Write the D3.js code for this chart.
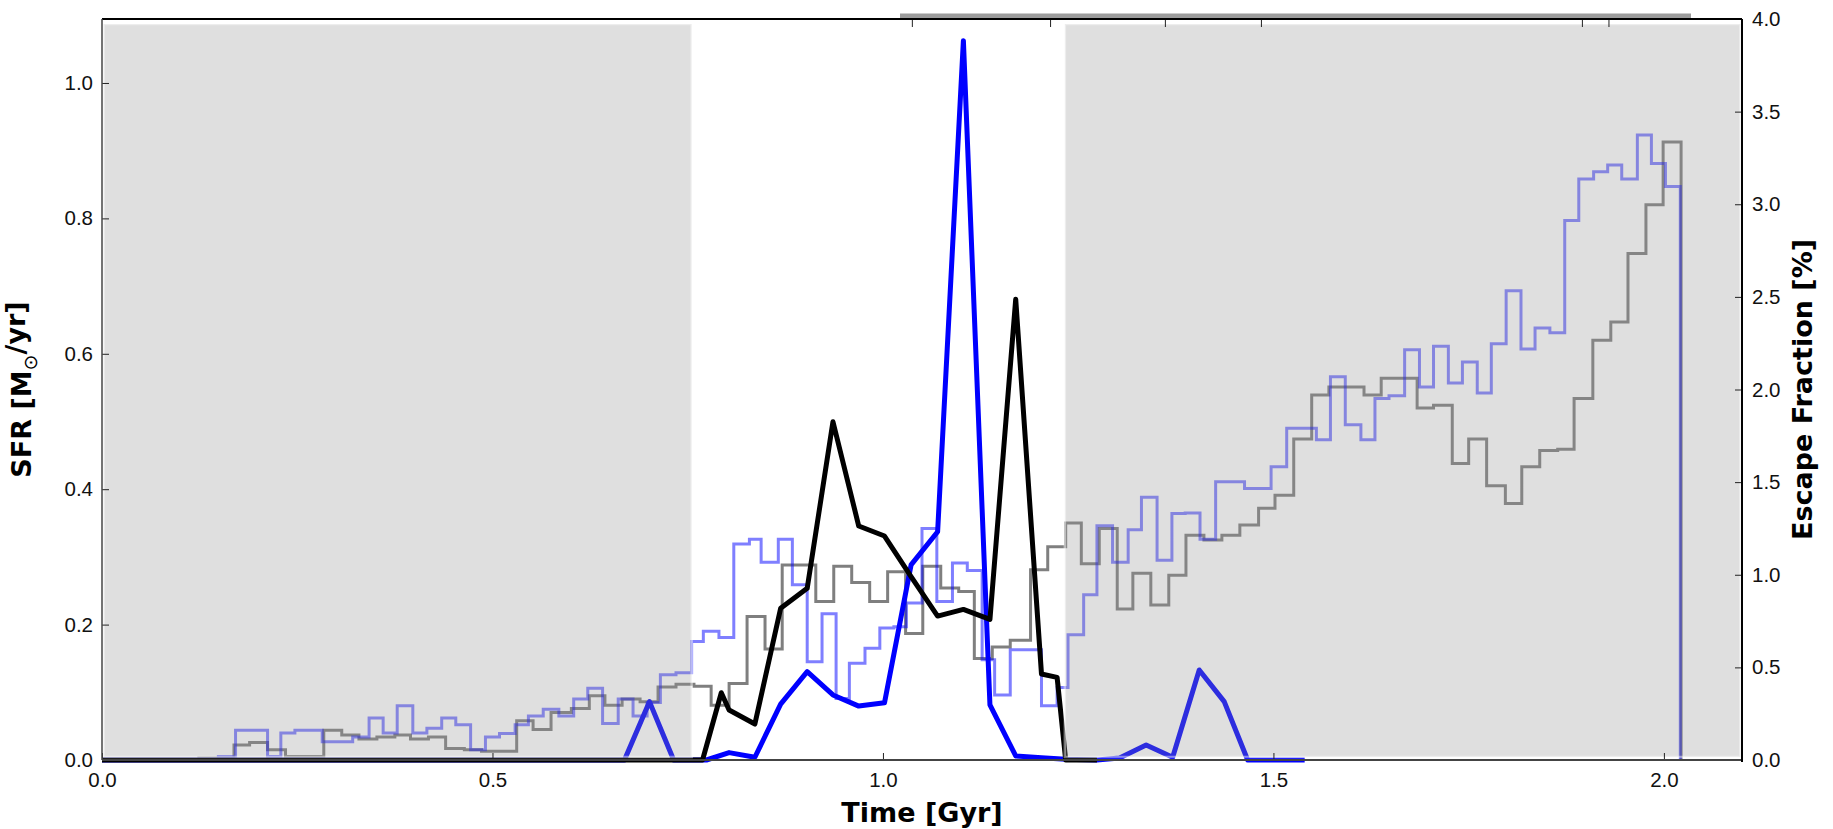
<!DOCTYPE html>
<html lang="en">
<head>
<meta charset="UTF-8">
<title>SFR and Escape Fraction</title>
<script src="https://cdnjs.cloudflare.com/ajax/libs/d3/7.8.5/d3.min.js"></script>
<style>
  body { margin: 0; background: #fff; }
  svg { display: block; font-family: "DejaVu Sans", sans-serif; }
  .tick text { font-size: 20.5px; fill: #111; }
  .tick line { stroke: #222; stroke-width: 1; }
  .axis-label { font-size: 27px; font-weight: bold; fill: #000; }
</style>
</head>
<body>
<svg id="chart" width="1833" height="829"></svg>
<script>
// --- Data (time in Gyr) ---

// shaded time spans
const shadedSpans = [[0.0, 0.757], [1.231, 2.1]];

// star formation rate histograms, [bin start, SFR in Msun/yr]
const sfrBlue = [
  [0.149, 0.005], [0.171, 0.044], [0.212, 0.005], [0.229, 0.040], [0.247, 0.044],
  [0.282, 0.027], [0.321, 0.034], [0.342, 0.062], [0.360, 0.040], [0.378, 0.080],
  [0.398, 0.040], [0.416, 0.047], [0.435, 0.062], [0.453, 0.052], [0.472, 0.015],
  [0.491, 0.034], [0.509, 0.039], [0.529, 0.052], [0.546, 0.065], [0.565, 0.075],
  [0.585, 0.065], [0.604, 0.090], [0.622, 0.106], [0.641, 0.054], [0.661, 0.090],
  [0.680, 0.065], [0.698, 0.085], [0.715, 0.126], [0.735, 0.129], [0.755, 0.175],
  [0.770, 0.190], [0.790, 0.181], [0.809, 0.319], [0.829, 0.326], [0.844, 0.292],
  [0.866, 0.326], [0.884, 0.259], [0.903, 0.145], [0.922, 0.216], [0.940, 0.091],
  [0.957, 0.143], [0.977, 0.165], [0.996, 0.195], [1.014, 0.197], [1.030, 0.232],
  [1.050, 0.342], [1.069, 0.234], [1.089, 0.291], [1.108, 0.280], [1.127, 0.148],
  [1.143, 0.096], [1.163, 0.163], [1.183, 0.163], [1.203, 0.080], [1.223, 0.107],
  [1.237, 0.185], [1.257, 0.244], [1.274, 0.346], [1.294, 0.292], [1.314, 0.340],
  [1.331, 0.388], [1.351, 0.295], [1.370, 0.364], [1.387, 0.365], [1.406, 0.326],
  [1.426, 0.411], [1.463, 0.401], [1.497, 0.433], [1.517, 0.490], [1.555, 0.473],
  [1.573, 0.566], [1.592, 0.495], [1.612, 0.473], [1.630, 0.534], [1.648, 0.538],
  [1.668, 0.606], [1.687, 0.551], [1.705, 0.611], [1.724, 0.557], [1.742, 0.588],
  [1.761, 0.542], [1.779, 0.615], [1.798, 0.693], [1.817, 0.607], [1.835, 0.638],
  [1.854, 0.631], [1.873, 0.797], [1.891, 0.858], [1.910, 0.869], [1.928, 0.879],
  [1.946, 0.858], [1.966, 0.923], [1.984, 0.881], [2.002, 0.847], [2.021, 0.0]
];

const sfrGray = [
  [0.124, 0.003], [0.169, 0.022], [0.189, 0.026], [0.212, 0.015], [0.235, 0.005],
  [0.284, 0.044], [0.307, 0.037], [0.329, 0.031], [0.352, 0.034], [0.375, 0.037],
  [0.395, 0.031], [0.418, 0.034], [0.440, 0.017], [0.464, 0.015], [0.486, 0.013],
  [0.531, 0.058], [0.552, 0.045], [0.575, 0.070], [0.601, 0.076], [0.624, 0.095],
  [0.644, 0.081], [0.666, 0.090], [0.689, 0.086], [0.712, 0.108], [0.735, 0.112],
  [0.758, 0.109], [0.780, 0.081], [0.803, 0.113], [0.826, 0.212], [0.849, 0.164],
  [0.871, 0.288], [0.914, 0.234], [0.937, 0.286], [0.960, 0.262], [0.983, 0.234],
  [1.006, 0.278], [1.029, 0.187], [1.051, 0.286], [1.074, 0.254], [1.097, 0.249],
  [1.117, 0.150], [1.140, 0.167], [1.163, 0.177], [1.189, 0.281], [1.211, 0.315],
  [1.234, 0.350], [1.254, 0.290], [1.277, 0.342], [1.300, 0.223], [1.320, 0.276],
  [1.343, 0.229], [1.366, 0.273], [1.388, 0.332], [1.411, 0.325], [1.434, 0.332],
  [1.457, 0.347], [1.481, 0.372], [1.502, 0.391], [1.526, 0.474], [1.549, 0.539],
  [1.571, 0.551], [1.616, 0.539], [1.638, 0.564], [1.684, 0.520], [1.705, 0.524],
  [1.729, 0.438], [1.750, 0.474], [1.773, 0.405], [1.797, 0.379], [1.818, 0.433],
  [1.841, 0.457], [1.864, 0.459], [1.885, 0.534], [1.909, 0.620], [1.932, 0.647],
  [1.954, 0.748], [1.977, 0.820], [1.999, 0.913], [2.022, 0.0]
];

// escape fraction curves, [time, percent]
const fescBlue = [
  [0.0, 0], [0.669, 0], [0.701, 0.315], [0.732, 0], [0.774, 0], [0.803, 0.040],
  [0.836, 0.015], [0.869, 0.302], [0.903, 0.477], [0.936, 0.351], [0.969, 0.291],
  [1.002, 0.309], [1.036, 1.053], [1.070, 1.232], [1.103, 3.883], [1.137, 0.297],
  [1.170, 0.022], [1.203, 0.012], [1.234, 0.004], [1.274, 0], [1.303, 0.011],
  [1.337, 0.081], [1.371, 0.015], [1.405, 0.486], [1.437, 0.315], [1.467, 0],
  [1.540, 0]
];

const fescBlack = [
  [0.0, 0], [0.769, 0], [0.793, 0.363], [0.803, 0.270], [0.836, 0.194],
  [0.869, 0.819], [0.903, 0.927], [0.936, 1.826], [0.969, 1.263], [1.002, 1.209],
  [1.036, 0.990], [1.070, 0.777], [1.103, 0.813], [1.137, 0.759], [1.170, 2.487],
  [1.203, 0.464], [1.223, 0.446], [1.234, 0], [1.274, 0]
];

// ticks
const timeTicks = [0.0, 0.5, 1.0, 1.5, 2.0];
const topMinorTicks = [1.037, 1.214, 1.361, 1.484, 1.895, 1.929];
const sfrTicks = [0.0, 0.2, 0.4, 0.6, 0.8, 1.0];
const fescTicks = [0.0, 0.5, 1.0, 1.5, 2.0, 2.5, 3.0, 3.5, 4.0];

// --- Setup ---
const svg = d3.select("#chart");
const plot = { left: 102, right: 1742, top: 19, bottom: 760 };

const x = d3.scaleLinear().domain([0, 2.1]).range([plot.left, plot.right]);
const ySfr = d3.scaleLinear().domain([0, 1.0945]).range([plot.bottom, plot.top]);
const yFesc = d3.scaleLinear().domain([0, 4]).range([plot.bottom, plot.top]);

// grey bar above the top spine
svg.append("rect")
  .attr("x", 900).attr("y", 13.5)
  .attr("width", 791).attr("height", 5)
  .attr("fill", "#9c9c9c");

// --- Lines ---
const stepLine = y => d3.line()
  .x(d => x(d[0]))
  .y(d => y(d[1]))
  .curve(d3.curveStepAfter);

const polyLine = y => d3.line()
  .x(d => x(d[0]))
  .y(d => y(d[1]));

svg.append("path")
  .datum([[sfrGray[0][0], 0], ...sfrGray])
  .attr("d", stepLine(ySfr))
  .attr("fill", "none")
  .attr("stroke", "rgba(0,0,0,0.5)")
  .attr("stroke-width", 3);

svg.append("path")
  .datum([[sfrBlue[0][0], 0], ...sfrBlue])
  .attr("d", stepLine(ySfr))
  .attr("fill", "none")
  .attr("stroke", "rgba(0,0,255,0.5)")
  .attr("stroke-width", 3);

svg.append("path")
  .datum(fescBlue)
  .attr("d", polyLine(yFesc))
  .attr("fill", "none")
  .attr("stroke", "#0000ff")
  .attr("stroke-width", 5)
  .attr("stroke-linejoin", "round");

svg.append("path")
  .datum(fescBlack)
  .attr("d", polyLine(yFesc))
  .attr("fill", "none")
  .attr("stroke", "#000")
  .attr("stroke-width", 5)
  .attr("stroke-linejoin", "round");

// --- Shaded spans (drawn on top, semi transparent) ---
svg.selectAll(".span")
  .data(shadedSpans)
  .enter().append("rect")
  .attr("class", "span")
  .attr("x", d => x(d[0]) + 1.5)
  .attr("y", 24)
  .attr("width", d => x(d[1]) - x(d[0]) - 3)
  .attr("height", 733)
  .attr("fill", "rgba(150,150,150,0.3)")
  .attr("stroke", "rgba(255,255,255,0.45)")
  .attr("stroke-width", 2.5);

// --- Axes ---
const fmt = d3.format(".1f");

const xAxis = svg.append("g")
  .attr("transform", `translate(0,${plot.bottom})`)
  .call(d3.axisBottom(x).tickValues(timeTicks).tickFormat(fmt)
    .tickSizeInner(-7).tickSizeOuter(0).tickPadding(12));

const topAxis = svg.append("g")
  .attr("transform", `translate(0,${plot.top})`)
  .call(d3.axisTop(x).tickValues(topMinorTicks).tickFormat("")
    .tickSizeInner(-8).tickSizeOuter(0));

const leftAxis = svg.append("g")
  .attr("transform", `translate(${plot.left},0)`)
  .call(d3.axisLeft(ySfr).tickValues(sfrTicks).tickFormat(fmt)
    .tickSizeInner(-7).tickSizeOuter(0).tickPadding(9));

const rightAxis = svg.append("g")
  .attr("transform", `translate(${plot.right},0)`)
  .call(d3.axisRight(yFesc).tickValues(fescTicks).tickFormat(fmt)
    .tickSizeInner(-7).tickSizeOuter(0).tickPadding(10));

[xAxis, topAxis, leftAxis, rightAxis].forEach(a => {
  a.select(".domain").remove();
  a.selectAll(".tick text").attr("font-family", null).attr("font-size", null);
});

// spines
svg.append("line").attr("x1", plot.left).attr("x2", plot.right)
  .attr("y1", plot.top).attr("y2", plot.top)
  .attr("stroke", "#000").attr("stroke-width", 2);
svg.append("line").attr("x1", plot.left).attr("x2", plot.right)
  .attr("y1", plot.bottom).attr("y2", plot.bottom)
  .attr("stroke", "#444").attr("stroke-width", 2);
svg.append("line").attr("x1", plot.left).attr("x2", plot.left)
  .attr("y1", plot.top).attr("y2", plot.bottom)
  .attr("stroke", "#444").attr("stroke-width", 1.5);
svg.append("line").attr("x1", plot.right).attr("x2", plot.right)
  .attr("y1", plot.top).attr("y2", plot.bottom + 2)
  .attr("stroke", "#000").attr("stroke-width", 2);

// --- Axis labels ---
svg.append("text")
  .attr("class", "axis-label")
  .attr("x", (plot.left + plot.right) / 2)
  .attr("y", 822)
  .attr("text-anchor", "middle")
  .text("Time [Gyr]");

const sfrLabel = svg.append("text")
  .attr("class", "axis-label")
  .attr("text-anchor", "middle")
  .attr("transform", `translate(31,${(plot.top + plot.bottom) / 2}) rotate(-90)`);
sfrLabel.append("tspan").text("SFR [M");
sfrLabel.append("tspan").attr("dy", "0.3em").attr("font-size", "19px")
  .attr("font-weight", "normal").text("\u2299");
sfrLabel.append("tspan").attr("dy", "-0.42em").text("/yr]");

svg.append("text")
  .attr("class", "axis-label")
  .attr("text-anchor", "middle")
  .attr("transform", `translate(1812,${(plot.top + plot.bottom) / 2}) rotate(-90)`)
  .text("Escape Fraction [%]");
</script>
</body>
</html>
